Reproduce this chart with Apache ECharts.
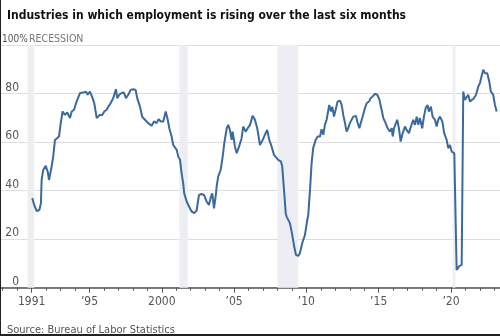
<!DOCTYPE html>
<html>
<head>
<meta charset="utf-8">
<script src="https://cdn.jsdelivr.net/npm/echarts@6/dist/echarts.min.js"></script>
<style>
  html, body { margin: 0; padding: 0; background: #fff; }
  #chart { position: absolute; left: 0; top: 0; width: 500px; height: 336px; }
  #edgeL { position: absolute; left: 0; top: 0; width: 1px; height: 336px; background: #222; }
  #edgeB { position: absolute; left: 0; top: 334px; width: 500px; height: 2px; background: #222; }
</style>
</head>
<body>
<div id="chart"></div>
<div id="edgeL"></div>
<div id="edgeB"></div>
<script>
// ---- data ----
const titleText = 'Industries in which employment is rising over the last six months';
const sourceText = 'Source: Bureau of Labor Statistics';
const topLabel = '100%';
const recessionLabel = 'RECESSION';

// decimal years of the traced points
const years = [
  1991.04,1991.18,1991.35,1991.53,1991.64,1991.69,1991.80,1991.97,1992.11,1992.20,1992.27,1992.38,1992.49,1992.61,1992.73,1992.89,
  1993.01,1993.14,1993.30,1993.46,1993.65,1993.77,1993.93,1994.11,1994.34,1994.57,1994.76,1994.87,1995.03,1995.19,1995.33,1995.50,
  1995.61,1995.72,1995.88,1996.02,1996.19,1996.30,1996.46,1996.64,1996.83,1996.92,1997.06,1997.22,1997.38,1997.52,1997.68,1997.85,
  1998.03,1998.19,1998.30,1998.49,1998.65,1998.84,1999.06,1999.30,1999.46,1999.64,1999.78,1999.94,2000.10,2000.27,2000.41,2000.52,
  2000.68,2000.79,2000.91,2001.03,2001.14,2001.26,2001.37,2001.48,2001.55,2001.72,2001.83,2001.95,2002.07,2002.24,2002.41,2002.57,
  2002.76,2002.92,2003.10,2003.26,2003.40,2003.49,2003.61,2003.75,2003.79,2003.90,2004.07,2004.21,2004.32,2004.49,2004.60,2004.71,
  2004.83,2004.90,2005.06,2005.18,2005.34,2005.52,2005.63,2005.80,2005.94,2006.10,2006.28,2006.44,2006.60,2006.79,2006.98,2007.13,
  2007.29,2007.43,2007.60,2007.76,2007.89,2008.05,2008.24,2008.33,2008.47,2008.57,2008.63,2008.86,2008.98,2009.16,2009.28,2009.44,
  2009.55,2009.71,2009.90,2010.06,2010.13,2010.25,2010.36,2010.47,2010.64,2010.78,2010.94,2011.05,2011.17,2011.28,2011.40,2011.58,
  2011.70,2011.79,2011.91,2012.02,2012.16,2012.32,2012.44,2012.55,2012.67,2012.78,2012.89,2013.01,2013.13,2013.24,2013.43,2013.52,
  2013.66,2013.75,2013.89,2014.05,2014.17,2014.33,2014.44,2014.58,2014.74,2014.90,2015.04,2015.20,2015.32,2015.48,2015.62,2015.78,
  2015.90,2015.97,2016.06,2016.17,2016.28,2016.40,2016.52,2016.66,2016.82,2016.93,2017.09,2017.23,2017.39,2017.51,2017.63,2017.74,
  2017.85,2018.01,2018.13,2018.25,2018.38,2018.47,2018.61,2018.73,2018.89,2019.01,2019.12,2019.24,2019.40,2019.53,2019.70,2019.81,
  2019.93,2020.05,2020.16,2020.23,2020.39,2020.43,2020.57,2020.74,2020.85,2020.96,2021.08,2021.19,2021.31,2021.43,2021.59,2021.73,
  2021.89,2022.00,2022.12,2022.23,2022.35,2022.51,2022.65,2022.76,2022.92,2023.04,2023.16
];
// percent of industries with rising employment
const values = [
  36.9,34.0,31.6,32.0,34.8,44.4,48.5,50.2,47.8,44.4,44.0,49.9,54.0,60.9,61.2,62.3,
  67.8,72.6,71.2,72.2,69.9,72.6,73.3,76.7,80.2,80.4,80.8,79.5,80.8,78.5,76.0,69.9,
  69.2,71.2,71.2,72.6,73.3,74.6,76.0,78.1,81.8,78.1,79.5,80.2,80.4,78.1,79.5,81.5,
  81.8,81.5,78.1,74.6,70.3,69.2,67.8,66.7,68.5,67.8,69.4,68.5,68.5,72.6,69.2,65.7,
  62.3,58.8,59.5,56.8,54.0,52.7,47.2,43.0,38.9,35.5,34.1,34.8,31.3,30.7,31.8,38.2,
  38.6,38.2,35.5,34.1,37.5,38.9,32.7,38.9,41.6,45.8,48.5,54.0,59.5,65.7,67.1,65.0,
  60.9,64.3,58.1,55.4,58.1,61.6,66.4,64.3,65.7,67.1,70.8,69.2,65.7,58.8,60.9,63.0,
  65.0,60.9,58.1,54.7,54.7,52.7,52.0,49.9,38.9,30.7,29.3,26.6,23.1,16.9,13.5,13.1,
  14.2,18.3,21.7,27.9,30.0,40.3,51.3,57.5,60.9,62.3,62.3,65.3,63.0,67.1,69.2,75.3,
  72.6,74.6,70.5,70.5,76.7,77.1,75.3,71.2,67.8,64.3,65.7,67.8,67.1,70.5,70.8,68.5,
  65.7,65.0,70.5,74.0,76.0,76.7,78.1,78.8,79.9,79.5,77.7,73.3,69.9,67.8,65.7,64.3,
  65.7,62.3,65.7,65.0,69.2,65.7,60.2,63.7,66.4,65.0,63.7,66.4,69.2,67.1,70.5,67.1,
  69.9,65.7,70.5,74.0,75.3,72.6,74.6,70.5,69.2,66.4,69.2,70.5,68.5,63.7,60.9,57.5,
  58.8,56.1,56.8,55.4,7.3,7.0,8.9,9.4,80.8,77.4,76.7,79.5,76.7,77.4,78.1,79.5,
  82.9,84.3,84.9,89.8,88.4,88.4,84.9,80.8,79.5,75.3,72.6
];

// recession periods [start, end] in decimal years
const recessionStarts = [1990.72, 2001.22, 2008.00, 2020.12];
const recessionEnds   = [1991.18, 2001.80, 2009.44, 2020.30];

// axis ticks & labels
const xMajorYears  = [1991, 1995, 2000, 2005, 2010, 2015, 2020];
const xMajorLabels = ['1991', '\u201995', '2000', '\u201905', '\u201910', '\u201915', '\u201920'];
const xMinorYears  = [1989,1990,1991,1992,1993,1994,1995,1996,1997,1998,1999,2000,2001,2002,2003,2004,2005,2006,2007,2008,2009,2010,2011,2012,2013,2014,2015,2016,2017,2018,2019,2020,2021,2022,2023];
const yTicks       = [0, 20, 40, 60, 80, 100];
const yTickLabels  = ['0', '20', '40', '60', '80', '100%'];

// ---- chart ----
const FONT = '"DejaVu Sans Condensed", Lato, sans-serif';
const chart = echarts.init(document.getElementById('chart'), null, { renderer: 'canvas' });

const lineData = years.map((y, i) => [y, values[i]]);
const areas = recessionStarts.map((s, i) => [{ xAxis: s }, { xAxis: recessionEnds[i] }]);

const option = {
  animation: false,
  backgroundColor: '#ffffff',
  title: [
    { text: titleText, left: 2, top: 5,
      textStyle: { fontFamily: FONT, fontSize: 12, fontWeight: 'bold', color: '#111' } },
    { text: sourceText, left: 2, top: 320,
      textStyle: { fontFamily: FONT, fontSize: 11, fontWeight: 'normal', color: '#555' } }
  ],
  graphic: [
    { type: 'text', left: 2, top: 34,
      style: { text: topLabel, fontFamily: FONT, fontSize: 10, fill: '#555' } },
    { type: 'text', left: 29, top: 34,
      style: { text: recessionLabel, fontFamily: FONT, fontSize: 10.5, fill: '#777' } }
  ],
  grid: { left: 0, right: 0, top: 45, bottom: 48.3, containLabel: false },
  xAxis: [
    {
      type: 'value', min: 1988.81, max: 2023.39,
      axisLine: { show: true, lineStyle: { color: '#555', width: 1.5 } },
      axisTick: { show: true, customValues: xMajorYears, length: 5, lineStyle: { color: '#555', width: 1 } },
      axisLabel: {
        show: true, customValues: xMajorYears, margin: 8,
        fontFamily: FONT, fontSize: 12, color: '#555',
        formatter: (v) => { const k = xMajorYears.indexOf(Math.round(v)); return k >= 0 ? xMajorLabels[k] : ''; }
      },
      splitLine: { show: false }
    },
    {
      type: 'value', min: 1988.81, max: 2023.39, position: 'bottom',
      axisLine: { show: false },
      axisTick: { show: true, customValues: xMinorYears, length: 3, lineStyle: { color: '#555', width: 1 } },
      axisLabel: { show: false },
      splitLine: { show: false }
    }
  ],
  yAxis: {
    type: 'value', min: 0, max: 100, interval: 20,
    axisLine: { show: false }, axisTick: { show: false },
    splitLine: { show: true, lineStyle: { color: '#dedede', width: 1 } },
    axisLabel: {
      inside: true, margin: 19, align: 'right', verticalAlign: 'bottom',
      padding: [0, 0, 0, 0],
      fontFamily: FONT, fontSize: 12, color: '#555',
      formatter: (v) => { const k = yTicks.indexOf(v); return (k >= 0 && v !== 100) ? yTickLabels[k] : ''; }
    }
  },
  series: [{
    type: 'line', data: lineData, showSymbol: false, smooth: false,
    xAxisIndex: 0, yAxisIndex: 0, z: 3,
    lineStyle: { color: '#3a69a0', width: 2 },
    markArea: { silent: true, itemStyle: { color: '#eceef2' }, data: areas }
  }]
};
chart.setOption(option);
</script>
</body>
</html>
